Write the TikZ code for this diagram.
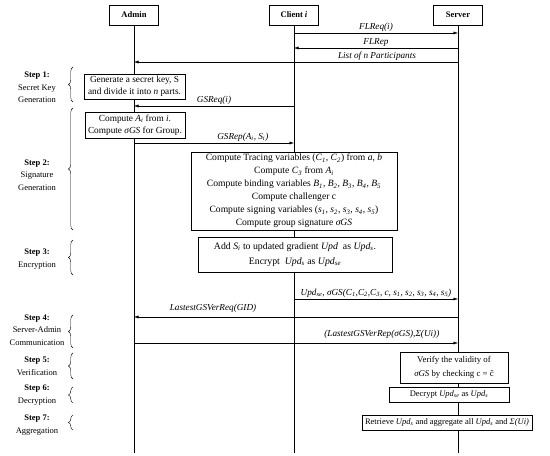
\documentclass[tikz,border=0pt]{standalone}
\usepackage{fontspec}
\setmainfont{Liberation Serif}
\usetikzlibrary{arrows.meta,decorations.pathreplacing}

\newcommand{\vr}[2]{\textit{#1}\textsubscript{\textit{#2}}}

\tikzset{
  actor/.style={draw, fill=white, minimum width=49pt, minimum height=20pt, inner sep=1pt,
    font=\fontsize{8.5}{10}\selectfont\bfseries},
  taskbox/.style={draw, fill=white, align=center, inner xsep=3pt, inner ysep=2pt,
    font=\fontsize{8.5}{13}\selectfont},
  msg/.style={-{Latex[length=4.5pt,width=3pt]}},
  msglabel/.style={font=\fontsize{9.2}{10}\selectfont\itshape, inner sep=1.5pt},
  steplabel/.style={align=center, font=\fontsize{8.5}{12.5}\selectfont},
  stepbrace/.style={decorate, decoration={brace, amplitude=4.5pt}},
}

\begin{document}
\begin{tikzpicture}[x=1pt, y=-1pt]
    \useasboundingbox (0,0) rectangle (550,456);
    \node[actor] (admin) at (134,15) {Admin};
    \node[actor] (client) at (294,15) {Client \textit{i}};
    \node[actor] (server) at (458,15) {Server};
    \coordinate (adminend) at (134,453);
    \coordinate (clientend) at (294,453);
    \coordinate (serverend) at (458,453);
    \draw (admin) -- (adminend);
    \draw (client) -- (clientend);
    \draw (server) -- (serverend);

    \draw[msg] (client |- 0,33) -- (server |- 0,33) node[msglabel, midway, above] {FLReq(i)};
    \draw[msg] (server |- 0,48) -- (client |- 0,48) node[msglabel, midway, above] {FLRep};
    \draw[msg] (server |- 0,62) -- (admin |- 0,62) node[msglabel, pos=0.25, above] {List of n Participants};

    \node[taskbox, minimum width=101pt, minimum height=23pt, font=\fontsize{9.3}{12}\selectfont] (secret) at (134.5,86.5)
        {Generate a secret key, S\\and divide it into \textit{n} parts.};
    \draw[msg] (client |- 0,106) -- (admin |- 0,106) node[msglabel, midway, above] {GSReq(\textit{i})};
    \node[taskbox, minimum width=100pt, minimum height=26pt, font=\fontsize{9.3}{12.5}\selectfont] (compai) at (135,125)
        {Compute \vr{A}{i} from \textit{i}.\\Compute \textit{σGS} for Group.};
    \draw[msg] (admin |- 0,143) -- (client |- 0,143) node[msglabel, pos=0.68, above] {GSRep(\vr{A}{i}, \vr{S}{i})};
    \node[taskbox, minimum width=206pt, minimum height=78pt, font=\fontsize{9.6}{13}\selectfont] (sign) at (294,191)
        {Compute Tracing variables (\vr{C}{1}, \vr{C}{2}) from \textit{a}, \textit{b}\\
         Compute \vr{C}{3} from \vr{A}{i}\\
         Compute binding variables \vr{B}{1}, \vr{B}{2}, \vr{B}{3}, \vr{B}{4}, \vr{B}{5}\\
         Compute challenger c\\
         Compute signing variables (\vr{s}{1}, \vr{s}{2}, \vr{s}{3}, \vr{s}{4}, \vr{s}{5})\\
         Compute group signature \textit{σGS}};
    \node[taskbox, minimum width=194pt, minimum height=35pt, font=\fontsize{9.8}{15}\selectfont] (encrypt) at (295,254.5)
        {Add \vr{S}{i} to updated gradient \textit{Upd}\ \ as \vr{Upd}{s}.\\
         Encrypt\ \ \vr{Upd}{s} as \vr{Upd}{se}};

    \draw[msg] (client |- 0,299) -- (server |- 0,299) node[msglabel, midway, above]
        {Upd\textsubscript{se}, σGS(C\textsubscript{1},C\textsubscript{2},C\textsubscript{3}, c, s\textsubscript{1}, s\textsubscript{2}, s\textsubscript{3}, s\textsubscript{4}, s\textsubscript{5})};
    \draw[msg] (server |- 0,317) -- (admin |- 0,317) node[msglabel, pos=0.756, above=3pt] {LastestGSVerReq(GID)};
    \draw[msg] (admin |- 0,343) -- (server |- 0,343) node[msglabel, pos=0.765, above=3pt] {(LastestGSVerRep(σGS),Σ(Ui))};

    \node[taskbox, minimum width=108pt, minimum height=31pt, font=\fontsize{8.8}{13.5}\selectfont] (verify) at (454,367.5)
        {Verify the validity of\\\textit{σGS} by checking c = \~{c}};
    \node[taskbox, minimum width=120pt, minimum height=15pt] (decrypt) at (449,394.5)
        {Decrypt \vr{Upd}{se} as \vr{Upd}{s}};
    \node[taskbox, minimum width=166pt, minimum height=15pt] (aggr) at (447,422.5)
        {Retrieve \vr{Upd}{s} and aggregate all \vr{Upd}{s} and \textit{Σ(Ui)}};

    \node[steplabel] (step1) at (37,87.5) {\textbf{Step 1:}\\Secret Key\\Generation};
    \node[steplabel] (step2) at (37,175) {\textbf{Step 2:}\\Signature\\Generation};
    \node[steplabel] (step3) at (37,259) {\textbf{Step 3:}\\Encryption};
    \node[steplabel] (step4) at (37,330) {\textbf{Step 4:}\\Server-Admin\\Communication};
    \node[steplabel] (step5) at (37,366) {\textbf{Step 5:}\\Verification};
    \node[steplabel] (step6) at (37,395) {\textbf{Step 6:}\\Decryption};
    \node[steplabel] (step7) at (37,425) {\textbf{Step 7:}\\Aggregation};

    \draw[stepbrace] (73,102) -- (73,67);
    \draw[stepbrace] (73,230) -- (73,108);
    \draw[stepbrace] (73,275) -- (73,240);
    \draw[stepbrace] (73,348) -- (73,315);
    \draw[stepbrace] (73,379) -- (73,353);
    \draw[stepbrace] (73,403) -- (73,387);
    \draw[stepbrace] (73,430) -- (73,415);
\end{tikzpicture}
\end{document}
